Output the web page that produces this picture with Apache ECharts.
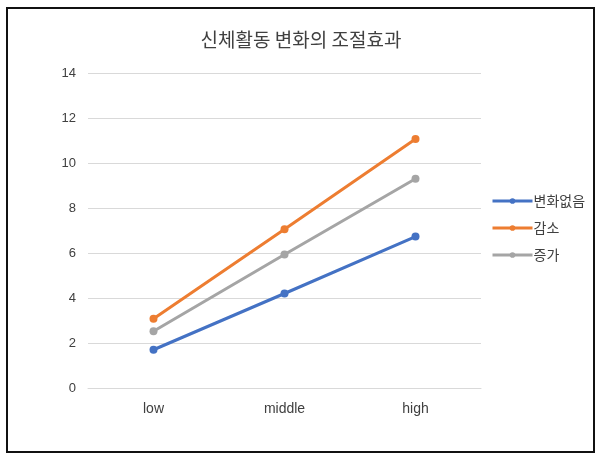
<!DOCTYPE html>
<html>
<head>
<meta charset="utf-8">
<script src="https://cdn.jsdelivr.net/npm/echarts@6/dist/echarts.min.js"></script>
<style>
html,body{margin:0;padding:0;background:#fff;}
#chart{width:602px;height:459px;}
</style>
</head>
<body>
<div id="chart"></div>
<script>
const categories = ['low', 'middle', 'high'];
const seriesNames = ['변화없음', '감소', '증가'];
const noChange = [1.7, 4.2, 6.73];
const decrease = [3.08, 7.06, 11.07];
const increase = [2.52, 5.93, 9.3];
const yTicks = { min: 0, max: 14, interval: 2 };
const colors = ['#4472C4', '#ED7D31', '#A5A5A5'];

const chart = echarts.init(document.getElementById('chart'), null, { renderer: 'canvas' });
const dataSets = [noChange, decrease, increase];
chart.setOption({
  animation: false,
  backgroundColor: '#fff',
  title: {
    text: '신체활동 변화의 조절효과',
    left: 'center',
    top: 25,
    textStyle: { fontFamily: 'Noto Sans CJK KR', fontSize: 19, fontWeight: 'normal', color: '#404040' }
  },
  graphic: [{
    type: 'rect',
    shape: { x: 7, y: 8, width: 587, height: 444 },
    style: { fill: 'none', stroke: '#111', lineWidth: 2 },
    z: 100
  }],
  legend: {
    orient: 'vertical',
    left: 486,
    top: 189,
    itemWidth: 40,
    itemHeight: 7,
    itemGap: 13,
    data: seriesNames,
    lineStyle: { width: 3 },
    textStyle: { fontFamily: 'Noto Sans CJK KR', fontSize: 14, color: '#404040', padding: [0, 0, 0, -4] }
  },
  grid: { left: 88, right: 121, top: 73, bottom: 71, containLabel: false },
  xAxis: {
    type: 'category',
    data: categories,
    boundaryGap: true,
    axisLine: { show: true, lineStyle: { color: '#d9d9d9', width: 1 } },
    axisTick: { show: false },
    axisLabel: { color: '#404040', fontSize: 14, margin: 14, fontFamily: 'Liberation Sans' }
  },
  yAxis: {
    type: 'value',
    min: yTicks.min,
    max: yTicks.max,
    interval: yTicks.interval,
    axisLine: { show: false },
    axisTick: { show: false },
    splitLine: { lineStyle: { color: '#d9d9d9', width: 1 } },
    axisLabel: { color: '#404040', fontSize: 13, margin: 12, fontFamily: 'Liberation Sans' }
  },
  series: seriesNames.map((n, i) => ({
    name: n,
    type: 'line',
    data: dataSets[i],
    color: colors[i],
    lineStyle: { width: 3, color: colors[i] },
    symbol: 'circle',
    symbolSize: 8,
    itemStyle: { color: colors[i] }
  }))
});
</script>
</body>
</html>
